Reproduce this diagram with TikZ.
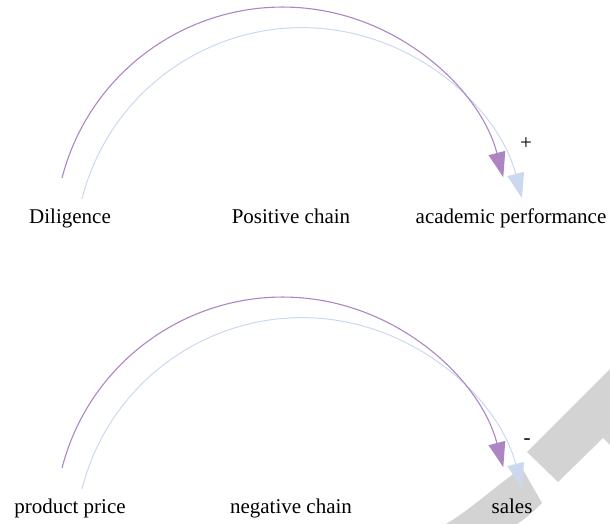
\documentclass[tikz,border=0pt]{standalone}
\usepackage{fontspec}
\setmainfont{Liberation Serif}
\usetikzlibrary{positioning, arrows.meta}

\definecolor{chainpurple}{HTML}{AD85C5}
\definecolor{chainblue}{HTML}{CBD8F0}
\definecolor{markgray}{HTML}{D3D3D3}

\tikzset{
  purplearc/.style={draw=chainpurple, line width=1.1pt,
    -{Triangle[length=25pt,width=17pt,fill=chainpurple]}},
  bluearc/.style={draw=chainblue, line width=1pt,
    -{Triangle[length=25pt,width=17pt,fill=chainblue]}},
  chaintext/.style={font=\fontsize{21}{25}\selectfont, anchor=base, inner sep=0pt}
}

\begin{document}
\begin{tikzpicture}[x=1pt,y=1pt]
\useasboundingbox (0,0) rectangle (610,524);

% draw gray mark
\fill[markgray] (527,72) -- (610,155) -- (610,79) -- (603,86) -- (558,42) -- cycle;
\fill[markgray] (446,0) .. controls (470,14) and (498,40) .. (522,56)
      -- (542,21) .. controls (533,12) and (525,5) .. (517,0) -- cycle;

% draw positive chain
\coordinate (posP) at (62,346);
\coordinate (posB) at (82,325);
\draw[bluearc] (posB) arc[start angle=165.8, end angle=14.4, radius=227];
\draw[purplearc] (posP) arc[start angle=165.5, end angle=14.7, radius=228];

\node[chaintext] (dil) at (70,300) {Diligence};
\node[chaintext] (poschain) at (291,300) {Positive chain};
\node[chaintext] (acad) at (511,300) {academic performance};
\node[chaintext] (plus) at (526,374) {+};

% draw negative chain
\coordinate (negP) at (62,56);
\coordinate (negB) at (82,35);
\draw[bluearc] (negB) arc[start angle=165.8, end angle=14.4, radius=227];
\draw[purplearc] (negP) arc[start angle=165.5, end angle=14.7, radius=228];

\node[chaintext] (price) at (70,10) {product price};
\node[chaintext] (negchain) at (291,10) {negative chain};
\node[chaintext] (sales) at (512,10) {sales};
\node[chaintext] (minus) at (527,79) {-};
\end{tikzpicture}
\end{document}
